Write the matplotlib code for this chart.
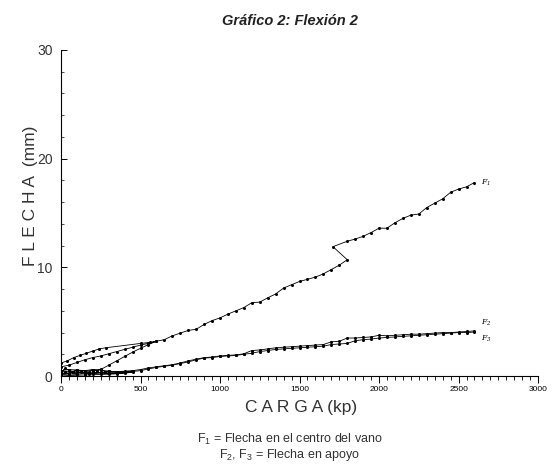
import matplotlib
matplotlib.use('Agg')
import matplotlib.pyplot as plt
from matplotlib.ticker import MultipleLocator

plt.rcParams['font.family'] = ['Liberation Sans', 'DejaVu Sans']

# F1 - centre of span (load / unload / reload near the origin)
f1_kp = [0, 40, 80, 120, 160, 200, 240, 280, 500, 560, 600,
         550, 500, 450, 400, 350, 300, 250, 200, 150, 100, 50, 0,
         0, 100, 200, 250, 300, 350, 400, 450, 500, 550, 600,
         650, 700, 750, 800, 850, 900, 950, 1000, 1050, 1100, 1150, 1200,
         1250, 1300, 1350, 1400, 1450, 1500, 1550, 1600, 1650, 1700, 1750,
         1800, 1710, 1800, 1850, 1900, 1950, 2000, 2050, 2100, 2150, 2200,
         2250, 2300, 2350, 2400, 2450, 2500, 2550, 2600]
f1_mm = [1.2, 1.4, 1.7, 1.9, 2.1, 2.3, 2.5, 2.6, 3.0, 3.1, 3.2,
         3.0, 2.85, 2.65, 2.45, 2.25, 2.05, 1.85, 1.7, 1.5, 1.25, 1.0, 0.85,
         0.4, 0.45, 0.5, 0.6, 1.0, 1.4, 1.8, 2.2, 2.55, 2.9, 3.2,
         3.35, 3.7, 3.95, 4.2, 4.3, 4.75, 5.1, 5.35, 5.7, 6.0, 6.3, 6.75,
         6.8, 7.2, 7.55, 8.1, 8.4, 8.7, 8.9, 9.1, 9.4, 9.8, 10.2,
         10.7, 11.9, 12.4, 12.6, 12.85, 13.2, 13.6, 13.6, 14.1, 14.5, 14.8,
         14.9, 15.5, 15.9, 16.3, 16.9, 17.2, 17.4, 17.8]

# F2 - support
f2_kp = [0, 25, 50, 75, 100, 125, 150, 175, 200, 225, 250, 275, 300, 350, 400, 450,
         400, 350, 300, 250, 200, 150, 100, 50, 0,
         0, 50, 100, 150, 200, 250, 300, 350, 400, 450, 500, 550, 600,
         650, 700, 750, 800, 850, 900, 950, 1000, 1050, 1100, 1150, 1200,
         1250, 1300, 1350, 1400, 1450, 1500, 1550, 1600, 1650, 1700, 1750,
         1800, 1850, 1900, 1950, 2000, 2050, 2100, 2150, 2200, 2250, 2300,
         2350, 2400, 2450, 2500, 2550, 2600]
f2_mm = [0.3, 0.7, 0.55, 0.4, 0.6, 0.45, 0.5, 0.35, 0.6, 0.5, 0.65, 0.4, 0.45, 0.4, 0.35, 0.45,
         0.35, 0.3, 0.25, 0.3, 0.2, 0.25, 0.15, 0.2, 0.1,
         0.5, 0.6, 0.55, 0.5, 0.6, 0.55, 0.45, 0.4, 0.45, 0.5, 0.6, 0.75, 0.85,
         0.95, 1.05, 1.2, 1.4, 1.55, 1.7, 1.75, 1.85, 1.9, 1.95, 2.05, 2.35,
         2.4, 2.5, 2.6, 2.65, 2.7, 2.75, 2.8, 2.85, 2.9, 3.15, 3.2,
         3.5, 3.5, 3.55, 3.6, 3.75, 3.7, 3.75, 3.8, 3.85, 3.85, 3.9,
         3.95, 4.0, 4.0, 4.05, 4.1, 4.15]

# F3 - support
f3_kp = [0, 25, 50, 75, 100, 125, 150, 175, 200, 250, 300, 350, 400, 450,
         350, 250, 150, 50, 0,
         0, 100, 200, 300, 400, 500, 550, 600,
         650, 700, 750, 800, 850, 900, 950, 1000, 1050, 1100, 1150, 1200,
         1250, 1300, 1350, 1400, 1450, 1500, 1550, 1600, 1650, 1700, 1750,
         1800, 1850, 1900, 1950, 2000, 2050, 2100, 2150, 2200, 2250, 2300,
         2350, 2400, 2450, 2500, 2550, 2600]
f3_mm = [0.1, 0.35, 0.25, 0.4, 0.2, 0.35, 0.3, 0.2, 0.25, 0.3, 0.2, 0.25, 0.3, 0.35,
         0.2, 0.15, 0.1, 0.05, 0.0,
         0.2, 0.3, 0.35, 0.3, 0.35, 0.5, 0.65, 0.8,
         0.9, 1.0, 1.15, 1.3, 1.5, 1.65, 1.7, 1.8, 1.85, 1.9, 2.0, 2.1,
         2.25, 2.35, 2.45, 2.5, 2.55, 2.6, 2.65, 2.7, 2.75, 2.9, 2.95,
         3.0, 3.25, 3.35, 3.4, 3.5, 3.55, 3.6, 3.65, 3.7, 3.75, 3.8,
         3.85, 3.9, 3.95, 4.0, 4.0, 4.05]

fig = plt.figure(figsize=(5.57, 4.66), dpi=100)
ax = fig.add_axes([0.1095, 0.193, 0.8565, 0.70])

for kp, mm in [(f1_kp, f1_mm), (f2_kp, f2_mm), (f3_kp, f3_mm)]:
    ax.plot(kp, mm, color='black', lw=0.6, marker='o', ms=2.2, mew=0)

ax.text(2640, 17.8, 'F$_{\\mathregular{1}}$', fontsize=5.5, va='center', family='DejaVu Serif', style='italic')
ax.text(2640, 4.9, 'F$_{\\mathregular{2}}$', fontsize=5.5, va='center', family='DejaVu Serif', style='italic')
ax.text(2640, 3.4, 'F$_{\\mathregular{3}}$', fontsize=5.5, va='center', family='DejaVu Serif', style='italic')

ax.set_xlim(0, 3000)
ax.set_ylim(0, 30)
ax.spines['top'].set_visible(False)
ax.spines['right'].set_visible(False)
ax.spines['left'].set_linewidth(0.8)
ax.spines['bottom'].set_linewidth(0.8)
ax.xaxis.set_major_locator(MultipleLocator(500))
ax.xaxis.set_minor_locator(MultipleLocator(50))
ax.yaxis.set_major_locator(MultipleLocator(10))
ax.yaxis.set_minor_locator(MultipleLocator(2))
ax.tick_params(axis='x', which='major', direction='out', length=5, width=0.7, labelsize=6, pad=2)
ax.tick_params(axis='x', which='minor', direction='out', length=3, width=0.6)
ax.tick_params(axis='y', which='major', direction='in', length=4, width=0.7, labelsize=10, pad=6, labelcolor='#333333')
ax.tick_params(axis='y', which='minor', direction='in', length=2, width=0.5)

fig.text(0.52, 0.955, 'Gráfico 2: Flexión 2', ha='center', va='center',
         fontsize=10.5, fontweight='bold', style='italic', color='#222222')
fig.text(0.055, 0.58, 'F L E C H A  (mm)', rotation=90, ha='center', va='center',
         fontsize=12.5, color='#333333')
fig.text(0.54, 0.125, 'C A R G A (kp)', ha='center', va='center',
         fontsize=12.5, color='#333333')
fig.text(0.52, 0.058, 'F$_{\\mathregular{1}}$ = Flecha en el centro del vano', ha='center', va='center',
         fontsize=9, color='#333333')
fig.text(0.52, 0.024, 'F$_{\\mathregular{2}}$, F$_{\\mathregular{3}}$ = Flecha en apoyo', ha='center', va='center',
         fontsize=9, color='#333333')

fig.savefig('out.png', dpi=100)
